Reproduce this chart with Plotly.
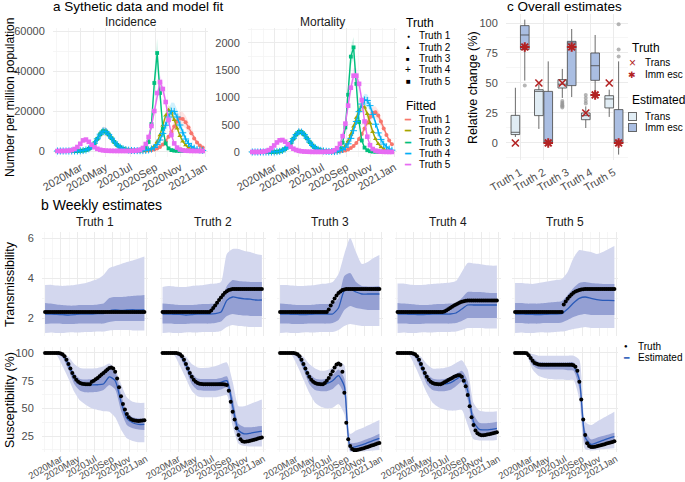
import plotly.graph_objects as go
import pandas as pd

# ---------------- shared x values / labels ----------------
week_dates = pd.date_range("2020-01-04", periods=52, freq="7D")
band_weeks = [0, 3, 6, 9, 12, 15, 18, 21, 24, 27, 30, 33, 36, 39, 42, 45, 48, 51]
x_range = ["2019-12-24", "2021-01-08"]
date_ticks = ["2020-03-01", "2020-05-01", "2020-07-01", "2020-09-01", "2020-11-01", "2021-01-01"]
date_ticklabels = ["2020Mar", "2020May", "2020Jul", "2020Sep", "2020Nov", "2021Jan"]
truth_labels = ["Truth 1", "Truth 2", "Truth 3", "Truth 4", "Truth 5"]

# ---------------- panel a: incidence (per million) ----------------
inc_1 = [0,0,0,0,0,0,10,30,80,200,500,1100,2200,3900,6100,8400,
         9900,9700,8300,6400,4500,3000,1900,1150,700,430,280,200,160,150,
         150,180,250,400,700,1200,2000,3200,4900,7100,9600,12300,14700,16200,16000,14400,11800,8900,6300,4200,2700,1700]
inc_2 = [0,0,0,0,0,0,10,30,80,200,500,1100,2200,3900,6100,8400,
         9900,9700,8300,6400,4500,3000,1900,1150,700,430,280,200,160,150,
         200,350,700,1300,2500,4600,8000,12800,17800,20500,19300,15600,11300,7600,4800,2900,1700,1000,580,340,200,120]
inc_3 = [0,0,0,0,0,0,10,30,80,200,500,1100,2200,3900,6100,8400,
         9900,9700,8300,6400,4500,3000,1900,1150,700,430,280,200,
         160,250,600,1500,4500,13500,34000,49000,29000,11000,3800,1300,450,170,70,30,20,15,10,10,10,10,10,10]
inc_4 = [0,0,0,0,0,0,10,30,80,200,500,1100,2200,3900,6100,8400,
         9900,9700,8300,6400,4500,3000,1900,1150,700,430,280,200,160,150,
         200,300,550,1000,1800,3200,5500,8800,12900,17000,19900,19800,17000,13000,9100,6000,3800,2300,1400,800,480,280]
inc_5 = [0,0,20,60,180,450,1000,2000,3600,5300,5700,4600,3100,1900,1100,600,330,180,100,60,40,30,
         20,20,20,30,50,100,250,600,
         1500,3500,7000,12500,20000,29000,34500,31000,24500,15500,8000,3800,1700,750,350,160,80,40,20,10,10,5]

# ---------------- panel a: mortality (per million) ----------------
mort_1 = [0,0,0,0,0,0,0,0,2,5,12,28,55,100,165,245,320,370,365,320,250,180,120,78,48,30,19,13,10,8,8,
          10,12,18,28,45,72,110,165,240,330,430,540,640,720,730,670,560,430,310,210,140]
mort_2 = [0,0,0,0,0,0,0,0,2,5,12,28,55,100,165,245,320,370,365,320,250,180,120,78,48,30,19,13,10,8,8,
          15,30,60,115,200,320,470,630,770,840,820,700,530,370,240,150,90,55,32,19,11]
mort_3 = [0,0,0,0,0,0,0,0,2,5,12,28,55,100,165,245,320,370,365,320,250,180,120,78,48,30,19,13,10,8,12,
          20,60,170,450,1050,1750,1920,1250,550,210,80,32,14,7,4,3,2,1,1,1,1]
mort_4 = [0,0,0,0,0,0,0,0,2,5,12,28,55,100,165,245,320,370,365,320,250,180,120,78,48,30,19,13,10,8,8,
          12,22,45,85,150,250,390,560,740,880,955,945,850,690,510,350,230,145,90,55,33]
mort_5 = [0,0,0,2,6,15,35,70,120,175,215,220,190,140,95,60,36,22,13,8,5,3,2,
          2,2,2,3,4,6,10,
          30,70,150,290,520,850,1180,1400,1400,1250,950,560,280,125,55,25,12,6,3,2,1,1]

# relative half-width of the fitted credible ribbons (read near the peaks)
inc_band_rel = [0.22, 0.12, 0.15, 0.22, 0.10]
mort_band_rel = [0.15, 0.12, 0.10, 0.12, 0.10]

# ---------------- panel b: transmissibility ----------------
tr_truth_1 = [2.3,2.3,2.3,2.3,2.3,2.3,2.3,2.3,2.3,2.3,2.3,2.3,2.3,2.3,2.3,2.3,2.3,2.3,2.3,2.3,2.3,2.3,2.3,2.3,2.3,2.3,
              2.3,2.3,2.3,2.3,2.3,2.3,2.3,2.3,2.3,2.3,2.3,2.3,2.3,2.3,2.3,2.3,2.3,2.3,2.3,2.3,2.3,2.3,2.3,2.3,2.3,2.3]
tr_truth_2 = [2.3,2.3,2.3,2.3,2.3,2.3,2.3,2.3,2.3,2.3,2.3,2.3,2.3,2.3,2.3,2.3,2.3,2.3,2.3,2.3,2.3,2.3,2.3,2.3,2.3,
              2.38,2.5,2.63,2.76,2.9,3.03,3.15,3.26,3.34,3.4,3.43,
              3.45,3.45,3.45,3.45,3.45,3.45,3.45,3.45,3.45,3.45,3.45,3.45,3.45,3.45,3.45,3.45]
tr_truth_3 = [2.3,2.3,2.3,2.3,2.3,2.3,2.3,2.3,2.3,2.3,2.3,2.3,2.3,2.3,2.3,2.3,2.3,2.3,2.3,2.3,2.3,2.3,2.3,2.3,2.3,
              2.42,2.62,2.8,2.97,3.12,3.25,3.33,3.4,3.43,
              3.45,3.45,3.45,3.45,3.45,3.45,3.45,3.45,3.45,3.45,3.45,3.45,3.45,3.45,3.45,3.45,3.45,3.45]
tr_truth_4 = [2.3,2.3,2.3,2.3,2.3,2.3,2.3,2.3,2.3,2.3,2.3,2.3,2.3,2.3,2.3,2.3,2.3,2.3,2.3,2.3,2.3,2.3,2.3,2.3,
              2.33,2.38,2.44,2.5,2.56,2.62,2.68,2.73,2.77,2.81,2.84,2.86,2.87,
              2.875,2.875,2.875,2.875,2.875,2.875,2.875,2.875,2.875,2.875,2.875,2.875,2.875,2.875,2.875]
tr_truth_5 = [2.3,2.3,2.3,2.3,2.3,2.3,2.3,2.3,2.3,2.3,2.3,2.3,2.3,2.3,2.3,2.3,2.3,2.3,2.3,2.3,2.3,2.3,2.3,2.3,2.3,
              2.68,2.82,2.96,3.08,3.18,3.26,3.32,3.36,3.4,3.42,3.44,
              3.45,3.45,3.45,3.45,3.45,3.45,3.45,3.45,3.45,3.45,3.45,3.45,3.45,3.45,3.45,3.45]

tr_est_1 = [2.2,2.2,2.18,2.17,2.15,2.17,2.2,2.2,2.2,2.22,2.22,2.36,2.4,2.38,2.4,2.42,2.4,2.42]
tr_in_hi_1 = [2.75,2.72,2.68,2.65,2.62,2.62,2.65,2.65,2.65,2.68,2.72,3.0,3.05,3.05,3.08,3.1,3.12,3.15]
tr_in_lo_1 = [1.7,1.72,1.72,1.7,1.7,1.7,1.72,1.72,1.72,1.72,1.72,1.8,1.85,1.85,1.85,1.85,1.85,1.85]
tr_out_hi_1 = [3.65,3.66,3.62,3.6,3.62,3.65,3.7,3.75,3.85,3.95,4.15,4.5,4.6,4.7,4.8,4.88,4.98,5.08]
tr_out_lo_1 = [1.25,1.28,1.25,1.25,1.28,1.28,1.28,1.3,1.3,1.32,1.32,1.38,1.4,1.4,1.4,1.38,1.38,1.38]

tr_est_2 = [2.2,2.2,2.18,2.18,2.15,2.17,2.2,2.2,2.2,2.22,2.3,2.88,3.05,3.0,2.96,2.94,2.9,2.9]
tr_in_hi_2 = [2.72,2.7,2.68,2.65,2.65,2.65,2.68,2.7,2.7,2.72,2.82,3.6,3.9,3.85,3.82,3.8,3.8,3.8]
tr_in_lo_2 = [1.72,1.72,1.7,1.7,1.7,1.72,1.72,1.72,1.72,1.75,1.82,2.1,2.2,2.15,2.12,2.1,2.1,2.1]
tr_out_hi_2 = [3.55,3.6,3.58,3.55,3.55,3.6,3.62,3.65,3.7,3.72,3.8,5.2,5.45,5.45,5.35,5.3,5.2,5.15]
tr_out_lo_2 = [1.25,1.28,1.25,1.25,1.28,1.28,1.28,1.3,1.3,1.3,1.35,1.55,1.65,1.6,1.58,1.55,1.55,1.55]

tr_est_3 = [2.2,2.2,2.18,2.18,2.17,2.18,2.2,2.2,2.2,2.2,2.5,3.38,3.45,3.3,3.2,3.2,3.2,3.2]
tr_in_hi_3 = [2.72,2.7,2.68,2.65,2.65,2.65,2.68,2.7,2.7,2.72,3.0,4.1,4.25,3.8,3.6,3.58,3.58,3.6]
tr_in_lo_3 = [1.72,1.72,1.7,1.7,1.7,1.72,1.72,1.72,1.72,1.75,1.9,2.4,2.6,2.5,2.45,2.4,2.4,2.4]
tr_out_hi_3 = [3.65,3.65,3.62,3.6,3.6,3.62,3.65,3.7,3.72,3.8,4.2,5.2,6.0,5.3,4.7,4.8,5.0,5.15]
tr_out_lo_3 = [1.25,1.28,1.25,1.25,1.28,1.28,1.28,1.3,1.3,1.3,1.4,1.6,1.7,1.65,1.6,1.6,1.6,1.6]

tr_est_4 = [2.2,2.2,2.18,2.18,2.17,2.18,2.2,2.2,2.2,2.2,2.25,2.45,2.65,2.65,2.65,2.65,2.65,2.65]
tr_in_hi_4 = [2.75,2.72,2.7,2.68,2.65,2.65,2.68,2.7,2.7,2.72,2.75,3.0,3.3,3.3,3.3,3.28,3.25,3.25]
tr_in_lo_4 = [1.72,1.72,1.7,1.7,1.7,1.72,1.72,1.72,1.72,1.72,1.75,1.85,2.0,2.0,2.0,2.0,2.0,2.0]
tr_out_hi_4 = [3.72,3.72,3.68,3.65,3.65,3.68,3.7,3.72,3.75,3.78,3.85,4.3,4.75,4.72,4.7,4.65,4.62,4.62]
tr_out_lo_4 = [1.25,1.28,1.25,1.25,1.28,1.28,1.28,1.3,1.3,1.3,1.32,1.4,1.5,1.5,1.5,1.48,1.48,1.48]

tr_est_5 = [2.2,2.2,2.18,2.18,2.17,2.18,2.2,2.2,2.22,2.45,2.75,2.98,3.05,2.98,2.92,2.88,2.88,2.87]
tr_in_hi_5 = [2.75,2.75,2.72,2.72,2.72,2.75,2.78,2.8,2.85,3.15,3.5,3.75,3.8,3.75,3.72,3.7,3.7,3.7]
tr_in_lo_5 = [1.75,1.75,1.72,1.72,1.72,1.75,1.75,1.75,1.78,1.9,2.05,2.15,2.2,2.15,2.15,2.15,2.15,2.15]
tr_out_hi_5 = [3.75,3.75,3.72,3.7,3.75,3.8,3.85,3.9,3.95,4.3,5.0,5.4,5.35,5.3,5.2,5.3,5.45,5.6]
tr_out_lo_5 = [1.25,1.28,1.25,1.25,1.28,1.28,1.28,1.3,1.32,1.38,1.45,1.5,1.55,1.5,1.5,1.5,1.5,1.5]

# ---------------- panel b: susceptibility (%) ----------------
su_truth_1 = [100,100,100,100,100,100,100,100,99.6,98.8,97,94,90,86,82,78.5,75.8,74,72.8,72.2,71.9,71.8,
              71.8,71.8,74,75,76.2,77.5,79,80.5,82,83.5,85,86.5,87,86,83,77,69,61,54,49,
              45,42,40.5,39.5,39,38.8,38.7,38.8,39,39.2]
su_truth_2 = [100,100,100,100,100,100,100,100,99.6,98.8,97,94,90,86,82,78.5,75.8,74,72.8,72.2,71.9,71.8,
              71.8,71.8,71.8,71.8,71.8,71.8,71.8,71.8,71.8,71.8,71.5,71,66,56,47,40,32,26,22,20.3,
              19.8,20,20.3,20.7,21.2,21.7,22.2,22.7,23.2,23.8]
su_truth_3 = [100,100,100,100,100,100,100,100,99.6,98.8,97,94,90,86,82,78.5,75.8,74,72.8,72.2,71.9,71.8,
              71.8,73,75,77.5,80.5,83.5,87,89.5,90.5,89.3,83,64,37,22,16,13.2,12.3,12.3,12.6,13,
              13.5,14,14.6,15.2,15.8,16.4,17,17.6,18.2,18.8]
su_truth_4 = [100,100,100,100,100,100,100,100,99.6,98.8,97,94,90,86,82,78.5,75.8,74,72.8,72.2,71.9,71.8,
              71.8,72.5,73.5,74.5,75.5,76.5,77.5,78.5,79.3,79.8,80,78.5,75,70,62,52,42,35,30,27.5,
              26.3,25.8,25.7,26,26.3,26.7,27.1,27.5,28,28.5]
su_truth_5 = [100,100,100,100,100,100,99.8,98,95.5,93,91,90.2,89.7,
              89.4,89.4,89.4,89.4,89.4,89.4,89.4,89.4,89.4,89.4,89.4,89.4,89.4,89.4,89.4,89.4,89.4,
              89,87.5,84,74,58,40,26,18.5,16,15.2,15.1,15.4,15.8,16.2,16.7,17.2,17.7,18.2,18.7,19.2,19.7,20.3]

su_est_1 = [100,100,99.8,98.5,89.5,77.5,72,71.2,71.2,71.3,72,78.5,75,56,41,37,35.5,35.5]
su_in_hi_1 = [100,100,100,99.3,93,82,76.5,76,76.5,77.5,80,86,83,63,46,42,41,40.5]
su_in_lo_1 = [100,100,99.3,96,85,72,66,64.5,64.5,65,66.5,71,67,48,35,32,31,30.5]
su_out_hi_1 = [100,100,100,99.8,96.5,90,86.5,86,86,86.5,88,90.5,86,72,60,56,55,55]
su_out_lo_1 = [100,99.8,98,88,77,65,57,53,50,48.5,47.5,47,42,31,23,20.5,19.5,19.5]

su_est_2 = [100,100,99.8,98.5,89.5,77.5,72.5,72.5,72.5,72.5,73.5,75,52,30,27,27.5,28.5,29.5]
su_in_hi_2 = [100,100,100,99.3,93,82,77,76.5,76.5,76.5,77.5,79,60,36,33,33,33.5,34]
su_in_lo_2 = [100,100,99.3,96,85,72,66.5,66,66,66,67,69,44,24,22,22,22.5,23]
su_out_hi_2 = [100,100,100,99.8,96.5,90,87,86.5,87,88,90,91.5,74,52,52,54,56,58]
su_out_lo_2 = [100,99.8,98,88,77,66,61,60,60,60,61,62,34,18,16,15.5,15.5,15.5]

su_est_3 = [100,100,99.8,98.5,89.5,77.5,72.5,72,72.5,75,79.5,70,15,15.5,17,19,21,23]
su_in_hi_3 = [100,100,100,99.3,93,82,77,76,77,80,85,77,19,19,20.5,22.5,24.5,27]
su_in_lo_3 = [100,100,99.3,96,85,72,66.5,65.5,65.5,67.5,72,62,12,12.5,14,15.5,17,19]
su_out_hi_3 = [100,100,100,99.8,96.5,90,86,84,84.5,87,92,89,27,30,32,34.5,37,39.5]
su_out_lo_3 = [100,99.8,98,88,76,64,55,51.5,50,50.5,54,45,10.5,10.5,11,11.5,12,12.5]

su_est_4 = [100,100,99.8,98.5,89.5,77.5,72.5,72,72,73,76,79,66,38,31,30.5,31,32]
su_in_hi_4 = [100,100,100,99.3,93,82,77,76,76.5,78,81,84,75,45,37,36.5,37,38]
su_in_lo_4 = [100,100,99.3,96,85,72,66.5,65.5,65.5,66.5,70,74,58,32,26,25.5,26,27]
su_out_hi_4 = [100,100,100,99.8,96.5,90,86,86,86.5,88,91,93.5,85,55,48,47,47,47.5]
su_out_lo_4 = [100,99.8,98,88,76,64,55,51,49,48,48,48.5,35,22,21,21,21,21.5]

su_est_5 = [100,100,99.5,93,89,88.5,88.5,88.5,88.5,88.5,88,76,24,17.5,19,21,23,24.5]
su_in_hi_5 = [100,100,100,96,92,91.5,91.5,91.5,91.5,91.5,91.5,80,30,22,23.5,25,26.5,28]
su_in_lo_5 = [100,100,99,89,85.5,85,85,85,85,84.5,84,68,18,14.5,16,17.5,19,20.5]
su_out_hi_5 = [100,100,100,99,97.5,97.5,97.5,97.5,97.5,97.5,97.5,94,38,35,38,41,44,47]
su_out_lo_5 = [100,99.8,97.5,85,79.5,77.5,76.5,76,76,75.5,75.5,58,13,12,12.5,13,13.5,14]

# ---------------- panel c: overall estimates (relative change %) ----------------
trans_q1 = [7, 22.8, 45.8, 19.4, 29.2]
trans_med = [8.9, 43, 49, 22.8, 36.7]
trans_q3 = [23, 44.4, 52.8, 25, 39.4]
trans_lo = [5, 11.7, 37.5, 12.5, 21.7]
trans_hi = [46, 48.6, 61.7, 30.5, 44.4]
imm_q1 = [77.8, 0, 47.8, 52.2, 0]
imm_med = [90, 0, 83.3, 64.4, 0]
imm_q3 = [97.8, 43, 84.7, 75, 27.8]
imm_lo = [52, 0, 38.3, 41.7, -9.7]
imm_hi = [102.8, 68, 95, 90, 68]
trans_out_cat = [3, 3, 3, 3, 3, 3, 4, 4, 4, 4]
trans_out_val = [29.5, 30.5, 31.5, 32.5, 33.5, 35, 33, 35, 37.5, 40]
imm_out_cat = [1, 5, 5, 5]
imm_out_val = [48, 72, 78, 99]
truth_trans = [0, 50, 50, 25, 50]
truth_imm = [80, 0, 80, 40, 0]

# ---------------- styling ----------------
W, H = 685, 482
FONT = "Liberation Sans, Arial, sans-serif"
GRID = "#EBEBEB"
MINOR = "#F4F4F4"
TICKC = "#4D4D4D"
series_colors = ["#F8766D", "#A3A500", "#00BF7D", "#00B0F6", "#E76BF3"]
truth_symbols = ["circle", "triangle-up", "square", "cross-thin", "square"]
truth_sizes = [4, 4.5, 3.8, 5, 4.6]
OUTER = "#D3D7EE"
INNER = "#95A0D3"
EST = "#2A5AB8"
RED = "#B22222"
BOX_LINE = "rgba(70,70,70,0.8)"
TRANS_FILL = "rgba(222,235,243,0.95)"
IMM_FILL = "rgba(165,186,224,0.95)"
dodge = 0.2


def rgba(hx, a):
    h = hx.lstrip("#")
    return "rgba(%d,%d,%d,%s)" % (int(h[0:2], 16), int(h[2:4], 16), int(h[4:6], 16), a)


def xdom(a, b):
    return [a / W, b / W]


def ydom(top, bot):
    return [1 - bot / H, 1 - top / H]


fig = go.Figure()

# ---- panel a ----
inc_series = [inc_1, inc_2, inc_3, inc_4, inc_5]
mort_series = [mort_1, mort_2, mort_3, mort_4, mort_5]
for i in range(5):
    c = series_colors[i]
    for vals, rel, xa, ya in ((inc_series[i], inc_band_rel[i], "x", "y"),
                              (mort_series[i], mort_band_rel[i], "x2", "y2")):
        fig.add_trace(go.Scatter(x=week_dates, y=[v * (1 - rel) for v in vals], mode="lines",
                                 line=dict(width=0, color=c), xaxis=xa, yaxis=ya, hoverinfo="skip"))
        fig.add_trace(go.Scatter(x=week_dates, y=[v * (1 + rel) for v in vals], mode="lines",
                                 line=dict(width=0, color=c), fill="tonexty", fillcolor=rgba(c, 0.18),
                                 xaxis=xa, yaxis=ya, hoverinfo="skip"))
for i in range(5):
    c = series_colors[i]
    lw = 1 if truth_symbols[i] == "cross-thin" else 0
    for vals, xa, ya in ((inc_series[i], "x", "y"), (mort_series[i], "x2", "y2")):
        fig.add_trace(go.Scatter(x=week_dates, y=vals, mode="lines+markers",
                                 line=dict(color=c, width=1.4),
                                 marker=dict(symbol=truth_symbols[i], size=truth_sizes[i], color=c,
                                             line=dict(width=lw, color=c)),
                                 xaxis=xa, yaxis=ya, name=truth_labels[i]))

# ---- panel b ----
band_dates = week_dates[band_weeks]
trans_sets = [
    (tr_truth_1, tr_est_1, tr_in_lo_1, tr_in_hi_1, tr_out_lo_1, tr_out_hi_1),
    (tr_truth_2, tr_est_2, tr_in_lo_2, tr_in_hi_2, tr_out_lo_2, tr_out_hi_2),
    (tr_truth_3, tr_est_3, tr_in_lo_3, tr_in_hi_3, tr_out_lo_3, tr_out_hi_3),
    (tr_truth_4, tr_est_4, tr_in_lo_4, tr_in_hi_4, tr_out_lo_4, tr_out_hi_4),
    (tr_truth_5, tr_est_5, tr_in_lo_5, tr_in_hi_5, tr_out_lo_5, tr_out_hi_5),
]
sus_sets = [
    (su_truth_1, su_est_1, su_in_lo_1, su_in_hi_1, su_out_lo_1, su_out_hi_1),
    (su_truth_2, su_est_2, su_in_lo_2, su_in_hi_2, su_out_lo_2, su_out_hi_2),
    (su_truth_3, su_est_3, su_in_lo_3, su_in_hi_3, su_out_lo_3, su_out_hi_3),
    (su_truth_4, su_est_4, su_in_lo_4, su_in_hi_4, su_out_lo_4, su_out_hi_4),
    (su_truth_5, su_est_5, su_in_lo_5, su_in_hi_5, su_out_lo_5, su_out_hi_5),
]
sm = dict(shape="spline", smoothing=0.6)
for row, sets in enumerate([trans_sets, sus_sets]):
    for i, (truth, est, ilo, ihi, olo, ohi) in enumerate(sets):
        n = 4 + i + 5 * row
        xa, ya = "x%d" % n, "y%d" % n
        fig.add_trace(go.Scatter(x=band_dates, y=olo, mode="lines", line=dict(width=0, **sm),
                                 xaxis=xa, yaxis=ya, hoverinfo="skip"))
        fig.add_trace(go.Scatter(x=band_dates, y=ohi, mode="lines", line=dict(width=0, **sm),
                                 fill="tonexty", fillcolor=OUTER, xaxis=xa, yaxis=ya, hoverinfo="skip"))
        fig.add_trace(go.Scatter(x=band_dates, y=ilo, mode="lines", line=dict(width=0, **sm),
                                 xaxis=xa, yaxis=ya, hoverinfo="skip"))
        fig.add_trace(go.Scatter(x=band_dates, y=ihi, mode="lines", line=dict(width=0, **sm),
                                 fill="tonexty", fillcolor=INNER, xaxis=xa, yaxis=ya, hoverinfo="skip"))
        fig.add_trace(go.Scatter(x=band_dates, y=est, mode="lines", line=dict(width=1.3, color=EST, **sm),
                                 xaxis=xa, yaxis=ya, name="Estimated"))
        fig.add_trace(go.Scatter(x=week_dates, y=truth, mode="markers",
                                 marker=dict(size=4, color="black"), xaxis=xa, yaxis=ya, name="Truth"))

# ---- panel c ----
cat_pos = [1, 2, 3, 4, 5]
fig.add_trace(go.Box(x=[p - dodge for p in cat_pos], q1=trans_q1, median=trans_med, q3=trans_q3,
                     lowerfence=trans_lo, upperfence=trans_hi, width=0.37, whiskerwidth=0,
                     fillcolor=TRANS_FILL, line=dict(color=BOX_LINE, width=1), boxpoints=False,
                     xaxis="x3", yaxis="y3", name="Trans"))
fig.add_trace(go.Box(x=[p + dodge for p in cat_pos], q1=imm_q1, median=imm_med, q3=imm_q3,
                     lowerfence=imm_lo, upperfence=imm_hi, width=0.37, whiskerwidth=0,
                     fillcolor=IMM_FILL, line=dict(color=BOX_LINE, width=1), boxpoints=False,
                     xaxis="x3", yaxis="y3", name="Imm esc"))
fig.add_trace(go.Scatter(x=[c - dodge for c in trans_out_cat], y=trans_out_val, mode="markers",
                         marker=dict(size=4, color="rgba(150,150,150,0.7)"), xaxis="x3", yaxis="y3"))
fig.add_trace(go.Scatter(x=[c + dodge for c in imm_out_cat], y=imm_out_val, mode="markers",
                         marker=dict(size=4, color="rgba(150,150,150,0.7)"), xaxis="x3", yaxis="y3"))
fig.add_trace(go.Scatter(x=[p - dodge for p in cat_pos], y=truth_trans, mode="markers",
                         marker=dict(symbol="x-thin-open", size=7, color=RED, line=dict(color=RED, width=1.6)),
                         xaxis="x3", yaxis="y3", name="Trans"))
fig.add_trace(go.Scatter(x=[p + dodge for p in cat_pos], y=truth_imm, mode="markers",
                         marker=dict(symbol="asterisk-open", size=8, color=RED, line=dict(color=RED, width=2)),
                         xaxis="x3", yaxis="y3", name="Imm esc"))


# ---------------- axes ----------------
def base_axis(**kw):
    d = dict(showline=False, zeroline=False, showgrid=True, gridcolor=GRID, gridwidth=1,
             ticks="outside", ticklen=3, tickcolor="rgba(0,0,0,0)", automargin=False,
             tickfont=dict(family=FONT, size=11, color=TICKC), fixedrange=True)
    d.update(kw)
    return d


def date_axis(dom, anchor, labels=True, size=11, standoff=-4):
    return base_axis(type="date", domain=dom, anchor=anchor, range=x_range,
                     tickmode="array", tickvals=date_ticks, ticktext=date_ticklabels,
                     tickangle=-30, showticklabels=labels, ticklabelstandoff=standoff,
                     tickfont=dict(family=FONT, size=size, color=TICKC),
                     minor=dict(tick0="2020-01-01", dtick="M1", showgrid=True,
                                gridcolor=MINOR, gridwidth=0.8, ticks=""))


def lin_axis(dom, anchor, rng, tickvals, minor_dtick, labels=True):
    return base_axis(domain=dom, anchor=anchor, range=rng, tickmode="array",
                     tickvals=tickvals, ticktext=[str(v) for v in tickvals],
                     showticklabels=labels, ticklabelstandoff=2,
                     minor=dict(tick0=0, dtick=minor_dtick, showgrid=True,
                                gridcolor=MINOR, gridwidth=0.8, ticks=""))


axes = {}
axes["xaxis"] = date_axis(xdom(53, 208), "y")
axes["yaxis"] = lin_axis(ydom(28, 157), "x", [-3000, 61500], [0, 20000, 40000, 60000], 10000)
axes["xaxis2"] = date_axis(xdom(248, 397), "y2")
axes["yaxis2"] = lin_axis(ydom(28, 157), "x2", [-92, 2275], [0, 500, 1000, 1500, 2000], 250)
axes["xaxis3"] = base_axis(domain=xdom(506, 628), anchor="y3", range=[0.4, 5.6], tickmode="array",
                           tickvals=cat_pos, ticktext=truth_labels, tickangle=-30, ticklabelstandoff=-2)
axes["yaxis3"] = lin_axis(ydom(14, 160), "x3", [-14.2, 107.5], [0, 25, 50, 75, 100], 12.5)

col_left = [42, 159.5, 277, 394.5, 512]
col_w = 106
for i in range(5):
    nt, nb = 4 + i, 9 + i
    xd = xdom(col_left[i], col_left[i] + col_w)
    axes["xaxis%d" % nt] = date_axis(xd, "y%d" % nt, labels=False)
    axes["yaxis%d" % nt] = lin_axis(ydom(232, 336), "x%d" % nt, [1.1, 6.3], [2, 4, 6], 1, labels=(i == 0))
    axes["xaxis%d" % nb] = date_axis(xd, "y%d" % nb, labels=True, size=9.5, standoff=-6)
    axes["yaxis%d" % nb] = lin_axis(ydom(347, 452), "x%d" % nb, [10.6, 105.4], [25, 50, 75, 100], 12.5,
                                    labels=(i == 0))


# ---------------- text ----------------
def ann(text, px, py, size=11, color="black", xanchor="left", angle=0, **kw):
    d = dict(text=text, x=px / W, y=1 - py / H, xref="paper", yref="paper", showarrow=False,
             xanchor=xanchor, yanchor="middle", textangle=angle,
             font=dict(family=FONT, size=size, color=color))
    d.update(kw)
    return d


anns = [
    ann("a Sythetic data and model fit", 51, 7, size=13.5),
    ann("Incidence", 130.5, 22, size=12, color="#1A1A1A", xanchor="center"),
    ann("Mortality", 322.5, 22, size=12, color="#1A1A1A", xanchor="center"),
    ann("c Overall estimates", 505, 7, size=13.5),
    ann("b Weekly estimates", 39, 205, size=14),
    ann("Number per million population", 10, 98, size=12, xanchor="center", angle=-90),
    ann("Relative change (%)", 473, 87, size=12.5, xanchor="center", angle=-90),
    ann("Transmissibility", 10, 284, size=12.5, xanchor="center", angle=-90),
    ann("Susceptibility (%)", 10, 400, size=12.5, xanchor="center", angle=-90),
]
for i in range(5):
    anns.append(ann(truth_labels[i], col_left[i] + col_w / 2, 222, size=12, color="#1A1A1A", xanchor="center"))

LF = 10          # legend label font size
STEP = 11.3      # legend row spacing
# legend: panel a truth
anns.append(ann("Truth", 404, 23, size=12))
truth_glyphs = [("\u25cf", 5), ("\u25b2", 6), ("\u25a0", 6), ("+", 10), ("\u25a0", 8)]
for i in range(5):
    gy = 36 + i * STEP
    g, s = truth_glyphs[i]
    anns.append(ann(g, 408, gy, size=s, xanchor="center"))
    anns.append(ann(truth_labels[i], 417, gy, size=LF))
# legend: panel a fitted
anns.append(ann("Fitted", 404, 106, size=12))
for i in range(5):
    gy = 119.5 + i * STEP
    anns.append(ann("\u2501", 408, gy, size=10, color=series_colors[i], xanchor="center"))
    anns.append(ann(truth_labels[i], 417, gy, size=LF))
# legend: panel c
anns.append(ann("Truth", 630, 48, size=12))
anns.append(ann("\u00d7", 632, 63, size=12, color=RED, xanchor="center"))
anns.append(ann("Trans", 643, 63, size=LF))
anns.append(ann("\u2731", 632, 74.5, size=9, color=RED, xanchor="center"))
anns.append(ann("Imm esc", 643, 74.5, size=LF))
anns.append(ann("Estimated", 630, 100, size=12))
anns.append(ann(" ", 632, 116, size=4, xanchor="center", width=7, height=7, bgcolor=TRANS_FILL,
                bordercolor=BOX_LINE, borderwidth=1, borderpad=0))
anns.append(ann("Trans", 643, 116, size=LF))
anns.append(ann(" ", 632, 127.5, size=4, xanchor="center", width=7, height=7, bgcolor=IMM_FILL,
                bordercolor=BOX_LINE, borderwidth=1, borderpad=0))
anns.append(ann("Imm esc", 643, 127.5, size=LF))
# legend: panel b
anns.append(ann("\u25cf", 626, 346, size=6, xanchor="center"))
anns.append(ann("Truth", 636, 346, size=LF))
anns.append(ann("\u2501", 626, 357.5, size=9, color=EST, xanchor="center"))
anns.append(ann("Estimated", 636, 357.5, size=LF))

fig.update_layout(
    template="none",
    width=W, height=H,
    margin=dict(l=0, r=0, t=0, b=0),
    paper_bgcolor="white", plot_bgcolor="white",
    showlegend=False, boxmode="overlay",
    font=dict(family=FONT, size=11, color="black"),
    annotations=anns,
    **axes,
)

fig.write_html("out.html",
               config={"displayModeBar": False, "staticPlot": True},
               post_script="document.body.style.margin='0';document.body.style.padding='0';")
